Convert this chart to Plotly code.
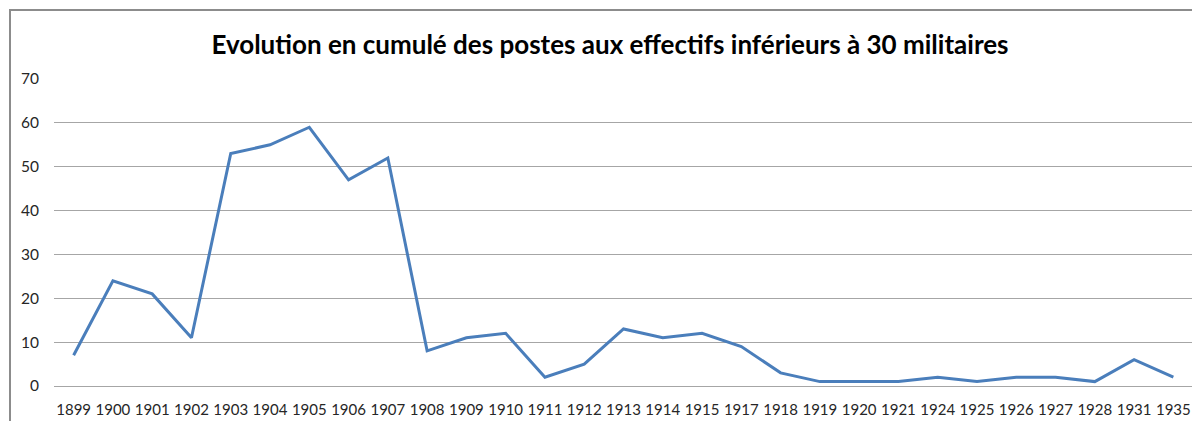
import plotly.graph_objects as go

annees = ["1899", "1900", "1901", "1902", "1903", "1904", "1905", "1906", "1907",
          "1908", "1909", "1910", "1911", "1912", "1913", "1914", "1915", "1917",
          "1918", "1919", "1920", "1921", "1924", "1925", "1926", "1927", "1928",
          "1931", "1935"]
postes = [7, 24, 21, 11, 53, 55, 59, 47, 52,
          8, 11, 12, 2, 5, 13, 11, 12, 9,
          3, 1, 1, 1, 2, 1, 2, 2, 1,
          6, 2]

GRIS = "#a6a6a6"
BLEU = "#4a7ebb"

# la page a une marge de 8 px : la figure fait 1192 x 413
W, H = 1192, 413

fig = go.Figure(go.Scatter(
    x=annees, y=postes, mode="lines",
    line=dict(color=BLEU, width=3),
    showlegend=False,
))

fig.update_layout(
    width=W, height=H,
    paper_bgcolor="white", plot_bgcolor="white",
    font=dict(family="Lato, sans-serif", color="#404040", size=15),
    margin=dict(l=46, r=7, t=71, b=35, autoexpand=False),
    title=dict(
        text="<b>Evolution en cumulé des postes aux effectifs inférieurs à 30 militaires</b>",
        font=dict(size=26, color="#000000"),
        x=0.505, xanchor="center", y=1 - 37 / H, yanchor="middle",
    ),
    xaxis=dict(type="category", showgrid=False, showline=False, ticks="",
               range=[-0.5, len(annees) - 0.5], ticklabelstandoff=13,
               tickfont=dict(size=15, color="#262626")),
    yaxis=dict(range=[0, 70], dtick=10, showgrid=True, gridcolor=GRIS,
               gridwidth=1, zeroline=True, zerolinecolor=GRIS, zerolinewidth=1,
               ticks="", ticklabelstandoff=14, tickfont=dict(size=15.5, color="#262626")),
    shapes=[dict(type="rect", xref="paper", yref="paper",
                 x0=-44 / 1139, x1=1.2, y0=-0.5, y1=376 / 307,
                 line=dict(color="#8c8c8c", width=2), fillcolor="rgba(0,0,0,0)",
                 layer="below")],
)

fig.write_html("out.html")
